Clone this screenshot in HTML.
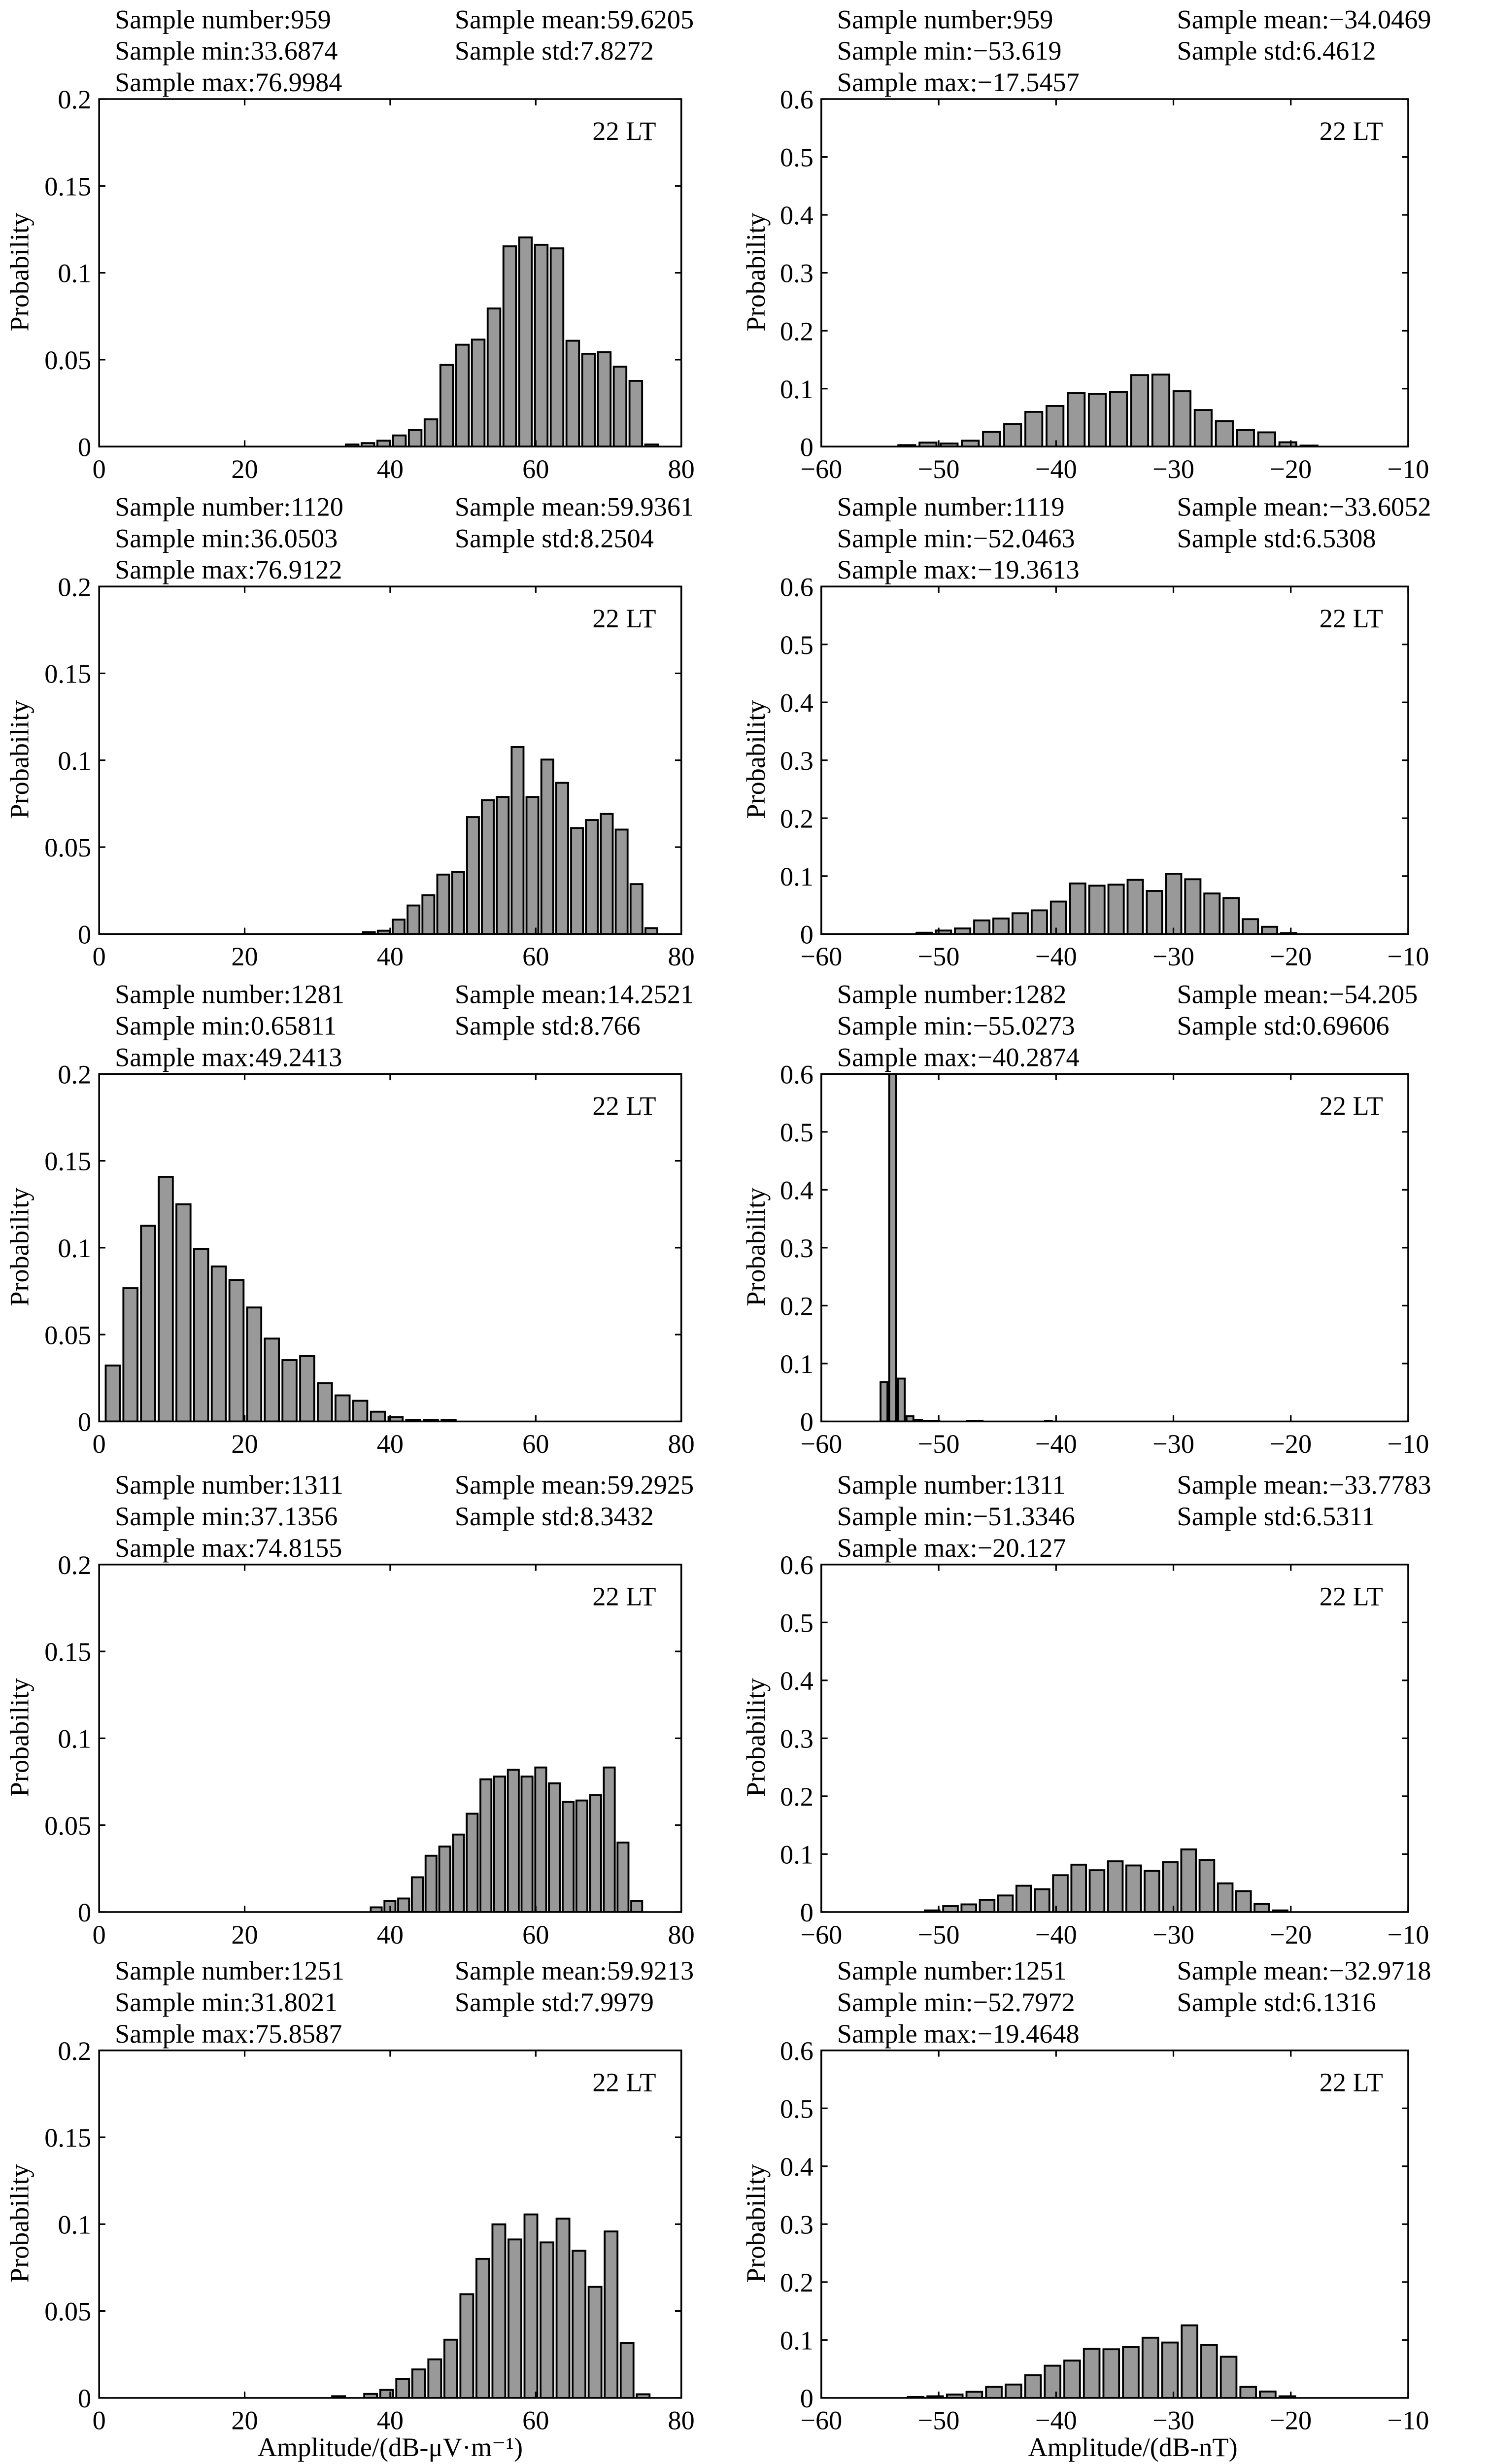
<!DOCTYPE html>
<html><head><meta charset="utf-8"><style>
html,body{margin:0;padding:0;background:#fff;overflow:hidden;width:3024px;height:5102px;}
svg{display:block;}
text{font-family:"Liberation Serif","DejaVu Serif",serif;fill:#000;}
</style></head><body>
<svg id="fig" width="3024" height="5102" viewBox="0 0 947 1599" preserveAspectRatio="none" xmlns="http://www.w3.org/2000/svg"></svg>
<script>
// ---- data ----
const leftMin=[33.6874,36.0503,0.65811,37.1356,31.8021];
const leftMax=[76.9984,76.9122,49.2413,74.8155,75.8587];
const leftProb1=[0.0012,0.002,0.0034,0.0064,0.0095,0.0157,0.047,0.0586,0.0616,0.0795,0.1153,0.1204,0.1161,0.1141,0.0609,0.0534,0.0544,0.046,0.0378,0.0012];
const leftProb2=[0.0011,0.0019,0.0083,0.0164,0.0224,0.0342,0.0358,0.0673,0.077,0.0789,0.1076,0.0789,0.1004,0.087,0.061,0.0656,0.0691,0.0601,0.0287,0.0034];
const leftProb3=[0.0322,0.0767,0.1126,0.1408,0.125,0.0993,0.0892,0.0814,0.0656,0.0477,0.0353,0.0376,0.022,0.015,0.0119,0.0056,0.0025,0.0008,0.0008,0.0008];
const leftProb4=[0.0027,0.0064,0.0078,0.02,0.0324,0.0377,0.0446,0.0566,0.0764,0.078,0.0819,0.078,0.0832,0.0741,0.0634,0.0642,0.0673,0.0832,0.04,0.0064];
const leftProb5=[0.001,0,0.0023,0.0046,0.0108,0.0164,0.0222,0.0335,0.0597,0.08,0.0999,0.0912,0.1056,0.0895,0.1032,0.0847,0.0639,0.0958,0.0317,0.0021];
const rightMin=[-53.619,-52.0463,-55.0273,-51.3346,-52.7972];
const rightMax=[-17.5457,-19.3613,-40.2874,-20.127,-19.4648];
const rightProb1=[0.0025,0.0069,0.0053,0.0102,0.0254,0.0391,0.0598,0.07,0.0923,0.0912,0.0945,0.1234,0.1243,0.0956,0.0631,0.0441,0.0284,0.0245,0.0074,0.0017];
const rightProb2=[0.0022,0.006,0.0096,0.0235,0.0268,0.0358,0.0408,0.056,0.0873,0.0835,0.0853,0.0936,0.0743,0.1041,0.0945,0.07,0.0622,0.0256,0.0124,0.0017];
const rightProb3=[0.068,0.84,0.074,0.009,0.003,0.001,0.001,0,0,0,0.001,0.001,0,0,0,0,0,0,0,0.001];
const rightProb4=[0.0028,0.0102,0.0132,0.0212,0.0286,0.0454,0.0394,0.0636,0.0818,0.0722,0.0876,0.0804,0.071,0.0862,0.1082,0.09,0.0495,0.0361,0.0138,0.0028];
const rightProb5=[0.0017,0.0028,0.0058,0.0105,0.019,0.0231,0.0391,0.0556,0.0645,0.0848,0.084,0.0876,0.1039,0.0956,0.1253,0.0917,0.0711,0.019,0.011,0.0028];
const leftStats=[
 ["Sample number:959","Sample mean:59.6205","Sample min:33.6874","Sample std:7.8272","Sample max:76.9984"],
 ["Sample number:1120","Sample mean:59.9361","Sample min:36.0503","Sample std:8.2504","Sample max:76.9122"],
 ["Sample number:1281","Sample mean:14.2521","Sample min:0.65811","Sample std:8.766","Sample max:49.2413"],
 ["Sample number:1311","Sample mean:59.2925","Sample min:37.1356","Sample std:8.3432","Sample max:74.8155"],
 ["Sample number:1251","Sample mean:59.9213","Sample min:31.8021","Sample std:7.9979","Sample max:75.8587"]];
const rightStats=[
 ["Sample number:959","Sample mean:\u221234.0469","Sample min:\u221253.619","Sample std:6.4612","Sample max:\u221217.5457"],
 ["Sample number:1119","Sample mean:\u221233.6052","Sample min:\u221252.0463","Sample std:6.5308","Sample max:\u221219.3613"],
 ["Sample number:1282","Sample mean:\u221254.205","Sample min:\u221255.0273","Sample std:0.69606","Sample max:\u221240.2874"],
 ["Sample number:1311","Sample mean:\u221233.7783","Sample min:\u221251.3346","Sample std:6.5311","Sample max:\u221220.127"],
 ["Sample number:1251","Sample mean:\u221232.9718","Sample min:\u221252.7972","Sample std:6.1316","Sample max:\u221219.4648"]];
const leftXTicks=[0,20,40,60,80];
const leftXLabels=["0","20","40","60","80"];
const leftYTicks=[0,0.05,0.1,0.15,0.2];
const leftYLabels=["0","0.05","0.1","0.15","0.2"];
const rightXTicks=[-60,-50,-40,-30,-20,-10];
const rightXLabels=["\u221260","\u221250","\u221240","\u221230","\u221220","\u221210"];
const rightYTicks=[0,0.1,0.2,0.3,0.4,0.5,0.6];
const rightYLabels=["0","0.1","0.2","0.3","0.4","0.5","0.6"];

const leftProbs=[leftProb1,leftProb2,leftProb3,leftProb4,leftProb5];
const rightProbs=[rightProb1,rightProb2,rightProb3,rightProb4,rightProb5];

// ---- layout ----
const NS="http://www.w3.org/2000/svg";
const svg=document.getElementById('fig');
const rowTop=[63,373,683,995,1304];
const PH=221;
function mk(tag,attrs,parent){const e=document.createElementNS(NS,tag);for(const k in attrs)e.setAttribute(k,attrs[k]);(parent||svg).appendChild(e);return e;}

function panel(side,r,x0,x1,xmin,xmax,ymax,xt,xl,yt,yl,vals,bmin,bmax,stats,ylOff){
  const top=rowTop[r],bot=top+PH;
  const g=mk('g',{});
  
  
  const sx=v=>x0+(v-xmin)/(xmax-xmin)*(x1-x0);
  const sy=v=>bot-v/ymax*PH;
  const cid='clip-'+side+r;
  const cp=mk('clipPath',{id:cid},g);
  mk('rect',{x:x0,y:top,width:x1-x0,height:PH},cp);
  const sxA=x0+10, sxB=x0+226;
  const st=[[stats[0],sxA,top-45],[stats[1],sxB,top-45],[stats[2],sxA,top-25],[stats[3],sxB,top-25],[stats[4],sxA,top-5]];
  st.forEach((s,i)=>{const t=mk('text',{x:s[1],y:s[2],'font-size':17},g);t.textContent=s[0];
    
    });
  const bg=mk('g',{'clip-path':'url(#'+cid+')'},g);
  const n=vals.length,w=(bmax-bmin)/n;
  vals.forEach((v,i)=>{
    const c=bmin+w*(i+0.5);
    const bx=sx(c-0.4*w),bw=sx(c+0.4*w)-bx;
    const rect=mk('rect',{x:bx,y:sy(v),width:bw,height:Math.max(0,bot-sy(v)),fill:'#999',stroke:'#000','stroke-width':1.2},bg);
    
    
  });
  const fr=mk('rect',{x:x0,y:top,width:x1-x0,height:PH,fill:'none',stroke:'#000','stroke-width':1.1},g);
  
  
  xt.forEach((v,i)=>{const x=sx(v);
    mk('line',{x1:x,x2:x,y1:bot,y2:bot-4,stroke:'#000','stroke-width':1},g);
    mk('line',{x1:x,x2:x,y1:top,y2:top+4,stroke:'#000','stroke-width':1},g);
    const t=mk('text',{x:x,y:bot+20,'font-size':17,'text-anchor':'middle'},g);t.textContent=xl[i];
    
    });
  yt.forEach((v,i)=>{const y=sy(v);
    mk('line',{x1:x0,x2:x0+4,y1:y,y2:y,stroke:'#000','stroke-width':1},g);
    mk('line',{x1:x1,x2:x1-4,y1:y,y2:y,stroke:'#000','stroke-width':1},g);
    const t=mk('text',{x:x0-5,y:y+6,'font-size':17,'text-anchor':'end'},g);t.textContent=yl[i];
    
    });
  const lt=mk('text',{x:x1-16,y:top+26,'font-size':17,'text-anchor':'end'},g);lt.textContent='22 LT';
  
  
  const yx=x0-ylOff, yy=top+110;
  const ylab=mk('text',{x:yx,y:yy,'font-size':17,'text-anchor':'middle',transform:'rotate(-90 '+yx+' '+yy+')'},g);
  ylab.textContent='Probability';
  
  
}
for(let r=0;r<5;r++){
  panel('left',r,63,433,0,80,0.2,leftXTicks,leftXLabels,leftYTicks,leftYLabels,leftProbs[r],leftMin[r],leftMax[r],leftStats[r],45);
  panel('right',r,522,895,-60,-10,0.6,rightXTicks,rightXLabels,rightYTicks,rightYLabels,rightProbs[r],rightMin[r],rightMax[r],rightStats[r],36);
}
const xa=mk('text',{x:248,y:1562,'font-size':17,'text-anchor':'middle'});
xa.textContent='Amplitude/(dB-\u03bcV\u00b7m\u207b\u00b9)';


const xb=mk('text',{x:720,y:1562,'font-size':17,'text-anchor':'middle'});
xb.textContent='Amplitude/(dB-nT)';


</script>
</body></html>
